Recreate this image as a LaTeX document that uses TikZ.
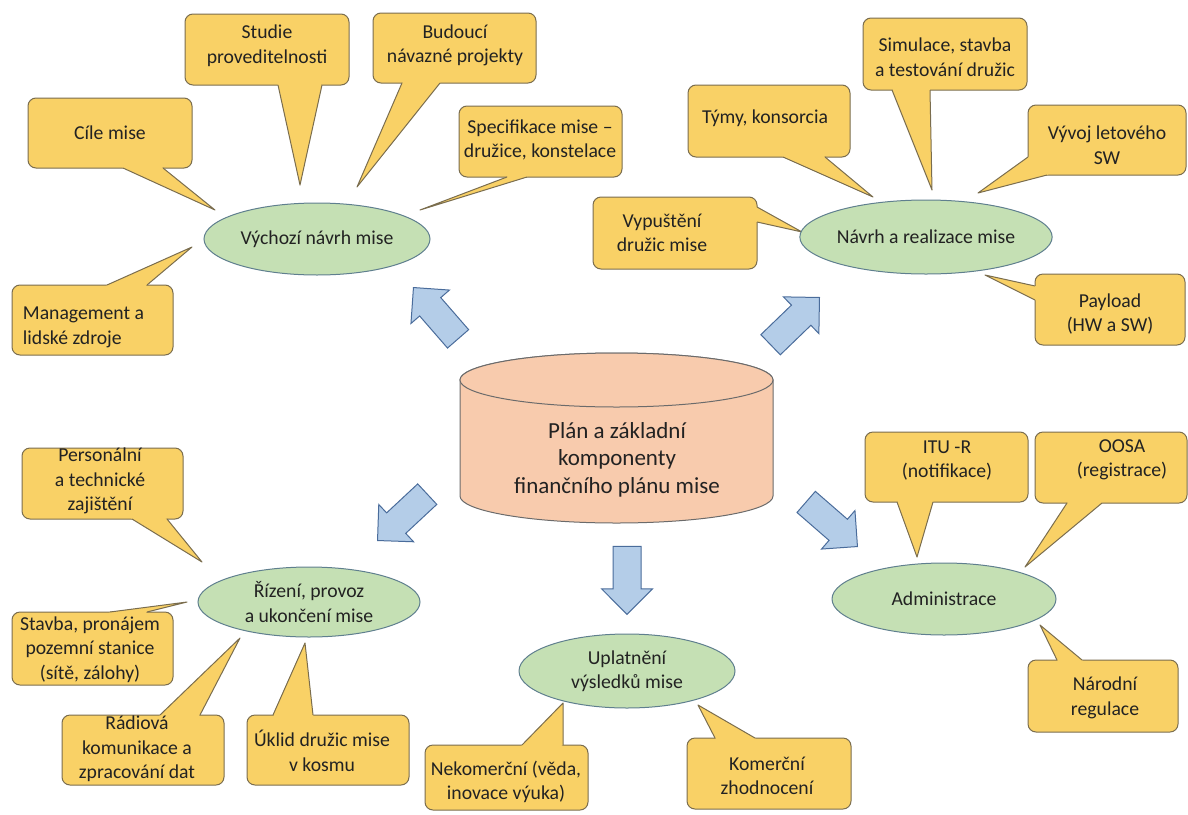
\documentclass[tikz,border=0pt]{standalone}
\usepackage{fontspec}
\setmainfont{Carlito}
\usetikzlibrary{shapes.geometric,shapes.arrows,fit,calc}
\definecolor{cyellow}{HTML}{F9D166}
\definecolor{cyline}{HTML}{7A6D4E}
\definecolor{egreen}{HTML}{C5E0B4}
\definecolor{eline}{HTML}{5F7F8E}
\definecolor{cylfill}{HTML}{F8CBAD}
\definecolor{cylline}{HTML}{6B6B6B}
\definecolor{afill}{HTML}{B4CDE8}
\definecolor{aline}{HTML}{4A6C9B}
\definecolor{txt}{HTML}{222222}
\tikzset{
 cbox/.style={draw=cyline, fill=cyellow, line width=1pt, rounded corners=8pt, inner sep=0pt},
 cfill/.style={fill=cyellow},
 cline/.style={draw=cyline, line width=1pt, line join=round},
 ctext/.style={text=txt, font=\fontsize{19.7}{24.5}\selectfont, align=center, inner sep=0pt},
 gell/.style={ellipse, draw=eline, fill=egreen, line width=1pt, inner sep=0pt, text=txt, font=\fontsize{19.7}{24.5}\selectfont, align=center},
 barrow/.style={single arrow, draw=aline, fill=afill, line width=1pt, minimum height=68pt, inner xsep=0pt, inner ysep=13.5pt, single arrow head extend=11.5pt, single arrow tip angle=90, anchor=tip},
 cyl/.style={draw=cylline, fill=cylfill, line width=1pt},
}
\newcommand\mycallout[9][]{%
  \node[cbox, fit={(#3) (#4)}] (#2) {};
  \fill[cfill] (#7) -- (#8) -- (#9) -- (#2.center) -- cycle;
  \draw[cline] (#7) -- (#8) -- (#9);
  \node[ctext,#1] (#2t) at (#5) {#6};
}
\begin{document}
\begin{tikzpicture}[x=1pt,y=-1pt]
\useasboundingbox (0,0) rectangle (1188,814);
% callouts
\mycallout{c1}{28,98}{192,168}{110,133}{Cíle mise}{123,168}{215,210}{163,168}
\mycallout{c2}{185,14}{349,85}{267,45.5}{Studie\\proveditelnosti}{278,85}{300,185}{322,85}
\mycallout{c3}{373,13}{536,83}{455,45.5}{Budoucí\\návazné projekty}{402,83}{357,187}{440,83}
\mycallout{c4}{459,106}{622,177}{540,140}{Specifikace mise –\\družice, konstelace}{507,177}{420,210}{527,177}
\mycallout[align=left]{c5}{12,285}{173,355}{83.5,327.5}{Management a\\lidské zdroje}{107,285}{192,247}{147,285}
\mycallout{c6}{688,85}{850,157}{765,118}{Týmy, konsorcia}{783,157}{873,197}{825,157}
\mycallout{c7}{863,18}{1027,90}{945,57}{Simulace, stavba\\a testování družic}{892,90}{932,190}{930,90}
\mycallout{c8}{1028,105}{1186,175}{1107,145}{Vývoj letového\\SW}{1028,157}{978,193}{1047,175}
\mycallout{c9}{593,197}{757,269}{662,233}{Vypuštění\\družic mise}{757,207}{802,232}{757,222}
\mycallout{c10}{1035,274}{1185,345}{1110,314}{Payload\\(HW a SW)}{1035,286}{985,275}{1035,300}
\mycallout{c11}{22,448}{183,519}{100,481}{Personální\\a technické\\zajištění}{132,519}{202,562}{167,519}
\mycallout{c12}{12,612}{173,685}{90,649.5}{Stavba, pronájem\\pozemní stanice\\(sítě, zálohy)}{110,612}{187,602}{147,612}
\mycallout{c13}{62,715}{224,785}{137,749}{Rádiová\\komunikace a\\zpracování dat}{160,715}{240,638}{200,715}
\mycallout{c14}{247,715}{409,785}{322,751}{Úklid družic mise\\v kosmu}{273,715}{305,643}{313,715}
\mycallout{c15}{425,745}{588,810}{506,782}{Nekomerční (věda,\\inovace výuka)}{522,745}{563,703}{563,745}
\mycallout{c16}{687,738}{851,809}{767,776}{Komerční\\zhodnocení}{715,738}{698,705}{755,738}
\mycallout{c17}{865,432}{1028,502}{947,460.5}{ITU -R\\(notifikace)}{897,502}{917,557}{933,502}
\mycallout{c18}{1035,432}{1187,503}{1122,460}{OOSA\\(registrace)}{1067,503}{1025,567}{1102,503}
\mycallout{c19}{1028,660}{1178,732}{1105,698}{Národní\\regulace}{1057,660}{1040,625}{1082,660}
% green ellipses
\node[gell, minimum width=226pt, minimum height=72pt] (e1) at (317,239) {Výchozí návrh mise};
\node[gell, minimum width=232pt, minimum height=74pt] (e2) at (926,237) {Návrh a realizace mise};
\node[gell, minimum width=222pt, minimum height=70pt] (e3) at (309,602) {Řízení, provoz\\a ukončení mise};
\node[gell, minimum width=216pt, minimum height=74pt] (e4) at (627,671) {Uplatnění\\výsledků mise};
\node[gell, minimum width=224pt, minimum height=72pt] (e5) at (944,599) {Administrace};
% cylinder
\path[cyl] (460,380) -- (460,496) arc[start angle=180, end angle=360, x radius=156.5pt, y radius=27pt] -- (773,380) arc[start angle=0, end angle=180, x radius=156.5pt, y radius=27pt] -- cycle;
\draw[cyl] (616.5,380) ellipse[x radius=156.5pt, y radius=27pt];
\node[text=txt, font=\fontsize{23}{27.5}\selectfont, align=center, inner sep=0pt] (plan) at (617,459.7) {Plán a základní\\komponenty\\finančního plánu mise};
% block arrows
\node[barrow, rotate=131] (a1) at (413,287) {};
\node[barrow, rotate=44] (a2) at (820,297) {};
\node[barrow, rotate=-137] (a3) at (377,541) {};
\node[barrow, rotate=-41] (a4) at (858,547) {};
\node[barrow, rotate=-90] (a5) at (627,615) {};
\end{tikzpicture}
\end{document}
